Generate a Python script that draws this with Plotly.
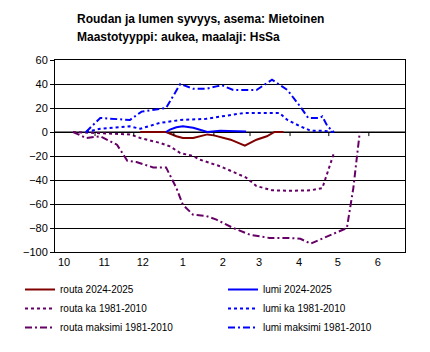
import plotly.graph_objects as go

# ---- data (cm; frost depth negative, snow depth positive) ----
routa_2024_x = ["2024-12-06", "2024-12-26", "2025-01-03", "2025-01-08", "2025-01-16",
                "2025-01-24", "2025-01-27", "2025-02-01", "2025-02-14", "2025-02-25",
                "2025-03-01", "2025-03-06", "2025-03-14", "2025-03-20", "2025-03-27"]
routa_2024_y = [0, 0, -3.5, -5, -5, -2.5, -2, -2.8, -6.4, -11.4, -9, -6.4, -3.6, 0, 0]

lumi_2024_x = ["2024-12-26", "2024-12-29", "2025-01-03", "2025-01-08", "2025-01-16",
               "2025-01-23", "2025-01-27", "2025-02-06", "2025-02-16", "2025-02-26"]
lumi_2024_y = [0, 2, 4, 4.7, 3.5, 1, 0, 1, 1, 0.5]

routa_ka_x = ["2024-10-15", "2024-11-02", "2024-11-28", "2024-12-06", "2024-12-21",
              "2024-12-29", "2025-01-06", "2025-01-16", "2025-01-21", "2025-02-06",
              "2025-02-26", "2025-03-06", "2025-03-18", "2025-04-01", "2025-04-17",
              "2025-04-26", "2025-05-01", "2025-05-05"]
routa_ka_y = [0, -1, -2, -5, -9, -12, -17.5, -20, -23, -28.6,
              -38, -45, -48.6, -49, -48.6, -46.7, -30, -17.5]

lumi_ka_x = ["2024-10-25", "2024-11-05", "2024-11-28", "2024-12-06", "2024-12-21",
             "2025-01-06", "2025-01-26", "2025-02-06", "2025-02-24", "2025-03-24",
             "2025-03-30", "2025-04-09", "2025-04-17", "2025-04-26", "2025-05-05"]
lumi_ka_y = [0, 2.7, 4.7, 2.7, 7.5, 10, 11, 13, 15.8, 15.8, 10, 4.7, 1, 1, 0]

routa_max_x = ["2024-10-15", "2024-10-25", "2024-11-05", "2024-11-18", "2024-11-26",
               "2024-12-03", "2024-12-16", "2024-12-26", "2025-01-03", "2025-01-08",
               "2025-01-16", "2025-01-26", "2025-02-03", "2025-02-16", "2025-03-01",
               "2025-03-16", "2025-04-01", "2025-04-09", "2025-04-17", "2025-04-30",
               "2025-05-08", "2025-05-15", "2025-05-20", "2025-05-23", "2025-05-25"]
routa_max_y = [0, -5, -3.5, -10.6, -24, -25, -29.5, -29.5, -46.7, -60.6,
               -69, -70, -73, -80, -85.6, -88.3, -88.3, -89, -93, -87,
               -83.6, -80, -46.7, -19, 0]

lumi_max_x = ["2024-10-25", "2024-11-05", "2024-11-28", "2024-12-07", "2024-12-26",
              "2025-01-06", "2025-01-16", "2025-01-26", "2025-02-03", "2025-02-07",
              "2025-02-16", "2025-03-06", "2025-03-18", "2025-03-30", "2025-04-09",
              "2025-04-15", "2025-04-24", "2025-04-26", "2025-04-30", "2025-05-05"]
lumi_max_y = [0, 11.7, 10, 17, 20, 40, 36, 36, 38, 39,
              35, 35, 43.6, 35, 21, 11.7, 11.7, 13, 4.7, 0]

month_starts = ["2024-10-01", "2024-11-01", "2024-12-01", "2025-01-01", "2025-02-01",
                "2025-03-01", "2025-04-01", "2025-05-01", "2025-06-01"]
month_label_pos = ["2024-10-08", "2024-11-08", "2024-12-08", "2025-01-08", "2025-02-08",
                   "2025-03-08", "2025-04-08", "2025-05-08", "2025-06-08"]
month_labels = ["10", "11", "12", "1", "2", "3", "4", "5", "6"]

RED = "#800000"
BLUE = "#0000FF"
PURPLE = "#660066"
DASHDOT = "7px,3px,2px,3px"

fig = go.Figure()
fig.add_trace(go.Scatter(x=routa_2024_x, y=routa_2024_y, mode="lines", name="routa 2024-2025",
                         line=dict(color=RED, width=2)))
fig.add_trace(go.Scatter(x=lumi_2024_x, y=lumi_2024_y, mode="lines", name="lumi 2024-2025",
                         line=dict(color=BLUE, width=2)))
fig.add_trace(go.Scatter(x=routa_ka_x, y=routa_ka_y, mode="lines", name="routa ka 1981-2010",
                         line=dict(color=PURPLE, width=2, dash="dot")))
fig.add_trace(go.Scatter(x=lumi_ka_x, y=lumi_ka_y, mode="lines", name="lumi ka 1981-2010",
                         line=dict(color=BLUE, width=2, dash="dot")))
fig.add_trace(go.Scatter(x=routa_max_x, y=routa_max_y, mode="lines", name="routa maksimi 1981-2010",
                         line=dict(color=PURPLE, width=2, dash=DASHDOT)))
fig.add_trace(go.Scatter(x=lumi_max_x, y=lumi_max_y, mode="lines", name="lumi maksimi 1981-2010",
                         line=dict(color=BLUE, width=2, dash=DASHDOT)))

# tick marks on zero line at month starts
shapes = [dict(type="line", xref="x", yref="y", x0=d, x1=d, y0=0, y1=-3.4,
               line=dict(color="black", width=1), layer="above") for d in month_starts[1:]]
# zero line
shapes.append(dict(type="line", xref="paper", yref="y", x0=0, x1=1, y0=0, y1=0,
                   line=dict(color="black", width=1), layer="below"))

fig.update_layout(
    width=430, height=352,
    margin=dict(l=55, r=25, t=60, b=100, autoexpand=False),
    paper_bgcolor="white", plot_bgcolor="white",
    font=dict(family="Liberation Sans, Arial, sans-serif", size=11, color="black"),
    showlegend=True,
    legend=dict(orientation="h", x=(20 - 55) / 350, y=(252 - 275) / 192, xanchor="left", yanchor="top",
                entrywidth=158, entrywidthmode="pixels",
                font=dict(size=10), itemwidth=30, tracegroupgap=0,
                bgcolor="rgba(0,0,0,0)"),
    shapes=shapes,
    annotations=[
        dict(text="<b>Roudan ja lumen syvyys, asema: Mietoinen</b>", xref="paper", yref="paper",
             x=(75 - 55) / 350, y=1 + (60 - 19) / 192, xanchor="left", yanchor="middle",
             showarrow=False, font=dict(size=12)),
        dict(text="<b>Maastotyyppi: aukea, maalaji: HsSa</b>", xref="paper", yref="paper",
             x=(75 - 55) / 350, y=1 + (60 - 37) / 192, xanchor="left", yanchor="middle",
             showarrow=False, font=dict(size=12)),
    ],
)
fig.update_xaxes(range=["2024-10-01", "2025-06-29"], tickvals=month_label_pos, ticktext=month_labels,
                 ticks="", showgrid=False, zeroline=False, showline=True, linecolor="black",
                 linewidth=1, mirror=True, tickfont=dict(size=11))
fig.update_yaxes(range=[-100, 60], dtick=20, tick0=0, ticks="outside", ticklen=4, tickcolor="black",
                 showgrid=True, gridcolor="black", gridwidth=1, zeroline=False, showline=True,
                 linecolor="black", linewidth=1, mirror=True, tickfont=dict(size=11))

fig.write_html("out.html")
